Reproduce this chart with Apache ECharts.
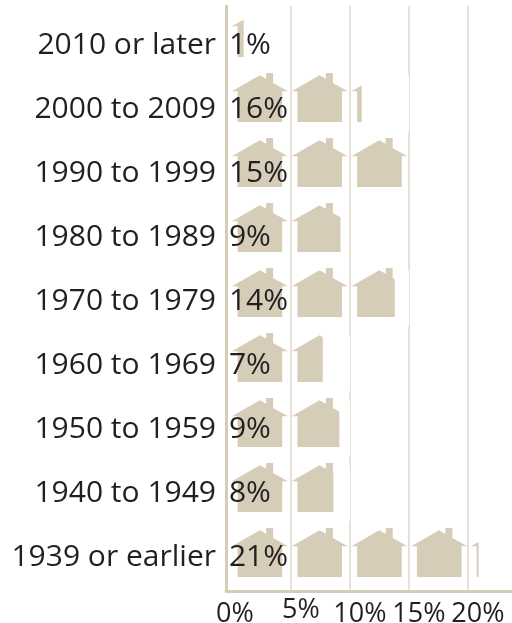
<!DOCTYPE html>
<html>
<head>
<meta charset="utf-8">
<style>
  html, body { margin: 0; padding: 0; background: #fff; }
  #main { width: 512px; height: 623px; }
</style>
<script src="https://cdn.jsdelivr.net/npm/echarts@6/dist/echarts.min.js"></script>
</head>
<body>
<div id="main"></div>
<script>
// 数据
var categories = ['2010 or later', '2000 to 2009', '1990 to 1999', '1980 to 1989', '1970 to 1979',
  '1960 to 1969', '1950 to 1959', '1940 to 1949', '1939 or earlier']
var printedPercent = [1, 16, 15, 9, 14, 7, 9, 8, 21]
// length of the house row as drawn, differs from the printed label in places
var houseValues = [1, 11, 15, 9.2, 13.8, 7.7, 9.1, 8.6, 20.9]
// white patches that break the grid lines
var maskStart = [0, 10.5, 0, 0, 10.5, 5.5, 5.5, 5.5, 0]
var maskLength = [0, 4.5, 0, 0, 4.5, 4.5, 4.5, 4.5, 0]
var tickValues = [0, 5, 10, 15, 20]

var house = 'path://M7 55L90 7L109 17L109 0L130 0L130 30L174 55L157 55L157 147L24 147L24 55Z'
var font = '"Open Sans"'
var textColor = '#231f20'
var tan = '#d6cdb8'

var chart = echarts.init(document.getElementById('main'))
chart.setOption({
  animation: false,
  grid: [
    { left: 226, top: 6, width: 286, height: 585, outerBoundsMode: 'none' },
    { left: 226, top: 13, width: 286, height: 576, outerBoundsMode: 'none' }
  ],
  xAxis: [
    {
      type: 'value',
      gridIndex: 0,
      min: -0.5,
      max: 23.73,
      axisLine: { show: true, onZero: false, lineStyle: { color: tan, width: 3 } },
      axisTick: { show: false, customValues: tickValues },
      splitLine: { show: false },
      axisLabel: {
        customValues: tickValues,
        margin: 6,
        fontFamily: font,
        fontSize: 27,
        color: textColor,
        hideOverlap: false,
        formatter: function (v) {
          if (v === 0) return '{first|0%}'
          if (v === 5) return '{up|5%}'
          return '{rest|' + v + '%}'
        },
        rich: {
          first: { fontFamily: font, fontSize: 27, color: textColor, padding: [4, 0, 0, 6] },
          up: { fontFamily: font, fontSize: 27, color: textColor, padding: [0, 0, 0, 20] },
          rest: { fontFamily: font, fontSize: 27, color: textColor, padding: [4, 0, 0, 20] }
        }
      }
    },
    {
      type: 'value',
      gridIndex: 1,
      min: -0.5,
      max: 23.73,
      axisLine: { show: false },
      axisTick: { show: false },
      axisLabel: { show: false },
      splitLine: { show: false }
    },
    {
      // 只用来画竖线
      type: 'value',
      gridIndex: 0,
      min: -0.5,
      max: 23.73,
      position: 'top',
      axisLine: { show: false },
      axisLabel: { show: false },
      axisTick: { show: false, customValues: [5, 10, 15, 20] },
      splitLine: { show: true, lineStyle: { color: '#e8e2d6', width: 2 } }
    }
  ],
  yAxis: [
    {
      type: 'category',
      gridIndex: 0,
      inverse: true,
      data: categories,
      axisLine: { show: true, onZero: false, lineStyle: { color: tan, width: 3 } },
      axisTick: { show: false },
      axisLabel: { show: false }
    },
    {
      type: 'category',
      gridIndex: 1,
      inverse: true,
      data: categories,
      axisLine: { show: false },
      axisTick: { show: false },
      axisLabel: { margin: 10, fontFamily: font, fontSize: 30, color: textColor }
    }
  ],
  series: [
    {
      type: 'bar',
      xAxisIndex: 0,
      yAxisIndex: 0,
      stack: 'mask',
      barWidth: 56,
      itemStyle: { color: 'transparent' },
      data: maskStart
    },
    {
      type: 'bar',
      xAxisIndex: 0,
      yAxisIndex: 0,
      stack: 'mask',
      barWidth: 56,
      itemStyle: { color: '#fff' },
      data: maskLength
    },
    {
      type: 'pictorialBar',
      xAxisIndex: 0,
      yAxisIndex: 0,
      symbol: house,
      symbolSize: [56, 49],
      symbolMargin: 4,
      symbolOffset: [0, -6],
      symbolRepeat: 'fixed',
      symbolPosition: 'start',
      symbolClip: true,
      symbolBoundingData: 25,
      itemStyle: { color: tan },
      z: 3,
      data: houseValues
    },
    {
      // 百分比文字
      type: 'bar',
      xAxisIndex: 1,
      yAxisIndex: 1,
      barWidth: 40,
      itemStyle: { color: 'transparent' },
      label: {
        show: true,
        position: 'insideLeft',
        distance: -3,
        fontFamily: font,
        fontSize: 30,
        color: textColor,
        formatter: '{c}%'
      },
      z: 5,
      data: printedPercent
    }
  ]
})
</script>
</body>
</html>
